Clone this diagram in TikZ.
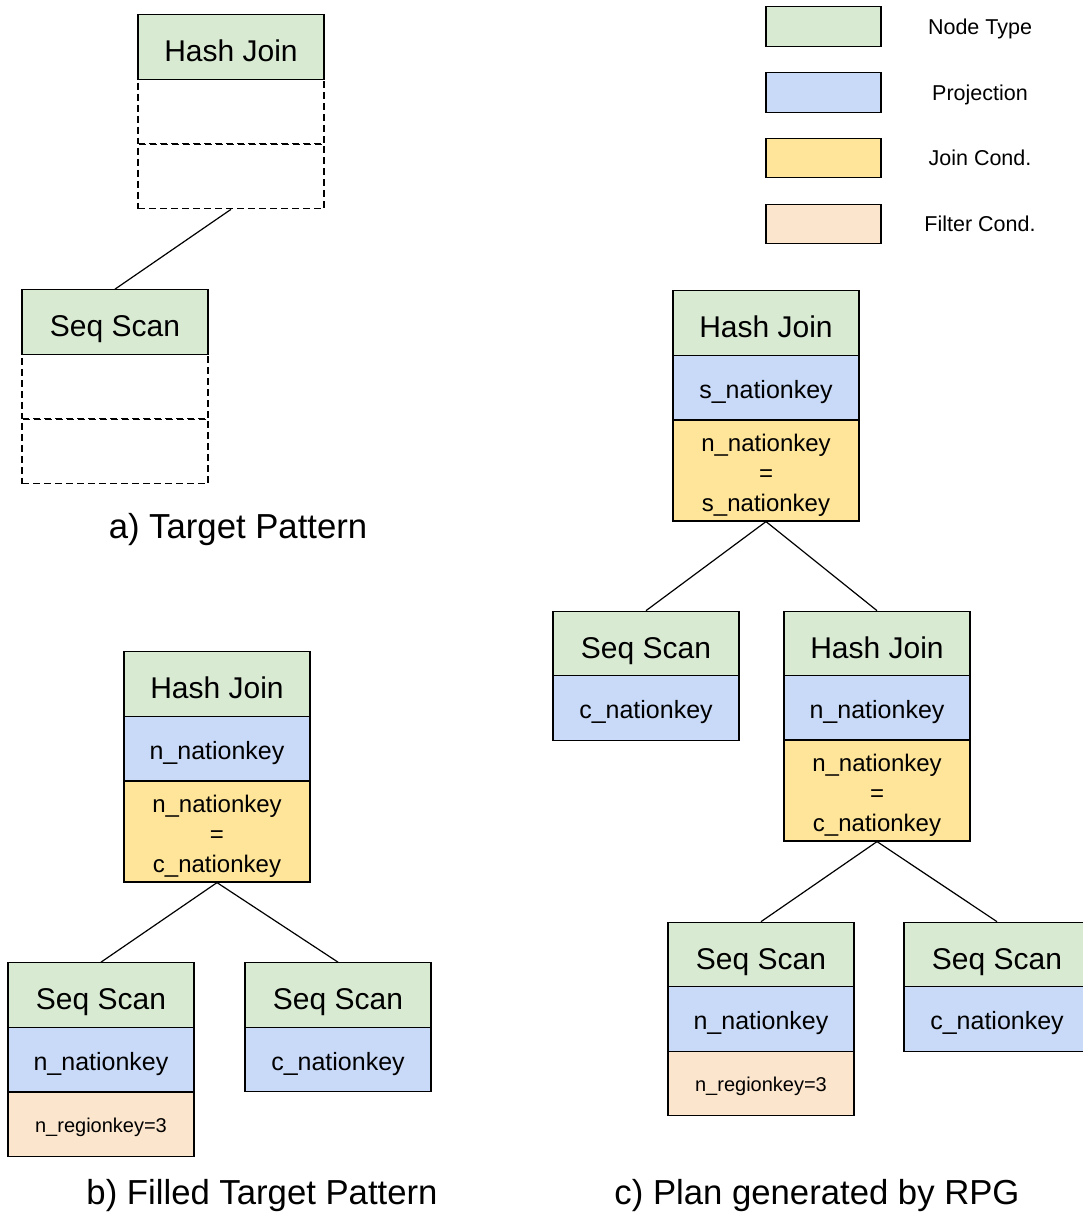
\documentclass[tikz,border=0pt]{standalone}
\usepackage{fontspec}
\setmainfont{Liberation Sans}
\definecolor{cgreen}{HTML}{D9EAD3}
\definecolor{cblue}{HTML}{C9DAF8}
\definecolor{cyellow}{HTML}{FFE599}
\definecolor{cpeach}{HTML}{FCE5CD}
\begin{document}
\begin{tikzpicture}[x=1pt,y=-1pt,
  cell/.style={draw=black, line width=1.2pt, minimum width=186pt, minimum height=64.5pt, inner sep=0pt, text=black},
  title/.style={cell, fill=cgreen, font=\fontsize{30}{36}\selectfont, text height=29pt, text depth=0pt},
  proj/.style={cell, fill=cblue, font=\fontsize{25}{30}\selectfont, text height=21pt, text depth=0pt},
  jcond/.style={cell, fill=cyellow, minimum height=101pt, label={[align=center, inner sep=0pt, yshift=-5pt, font=\fontsize{24}{30}\selectfont]center:#1}},
  fcond/.style={cell, fill=cpeach, font=\fontsize{20}{24}\selectfont, text height=16pt, text depth=0pt},
  emptycell/.style={cell, dash pattern=on 7pt off 4pt},
  legbox/.style={draw=black, line width=1.2pt, minimum width=115pt, minimum height=39.5pt, inner sep=0pt},
  legtext/.style={font=\fontsize{21.5}{26}\selectfont, inner sep=0pt, text height=15.5pt, text depth=0pt},
  caption/.style={font=\fontsize{34.7}{40}\selectfont, inner sep=0pt, text height=24pt, text depth=0pt},
  edge/.style={draw=black, line width=1.2pt}
]
\useasboundingbox (0,0) rectangle (1082,1214);

% Legend
\node[legbox, fill=cgreen] (l1) at (823.5,26.5) {};
\node[legbox, fill=cblue] (l2) at (823.5,92.5) {};
\node[legbox, fill=cyellow] (l3) at (823.5,158) {};
\node[legbox, fill=cpeach] (l4) at (823.5,224) {};
\node[legtext] (lt1) at (980,27) {Node Type};
\node[legtext] (lt2) at (980,92.5) {Projection};
\node[legtext] (lt3) at (980,158) {Join Cond.};
\node[legtext] (lt4) at (980,224) {Filter Cond.};

% Panel a
\node[emptycell] (a2) at (231,111.5) {};
\node[emptycell] (a3) at (231,176.5) {};
\node[title] (a1) at (231,47) {Hash Join};
\node[emptycell] (a5) at (115,386.5) {};
\node[emptycell] (a6) at (115,451.5) {};
\node[title] (a4) at (115,322) {Seq Scan};
\draw[edge] (a3.south) -- (a4.north);
\node[caption] (capa) at (238,526) {a) Target Pattern};

% Panel b
\node[title] (b1) at (217,684) {Hash Join};
\node[proj] (b2) at (217,748.5) {n\_nationkey};
\node[jcond={n\_nationkey\\=\\c\_nationkey}] (b3) at (217,831.5) {};
\node[title] (b4) at (101,995) {Seq Scan};
\node[proj] (b5) at (101,1059.5) {n\_nationkey};
\node[fcond] (b6) at (101,1124.5) {n\_regionkey=3};
\node[title] (b7) at (338,995) {Seq Scan};
\node[proj] (b8) at (338,1059.5) {c\_nationkey};
\draw[edge] (b3.south) -- (b4.north);
\draw[edge] (b3.south) -- (b7.north);
\node[caption] (capb) at (262,1192) {b) Filled Target Pattern};

% Panel c
\node[title] (c1) at (766,323) {Hash Join};
\node[proj] (c2) at (766,387.5) {s\_nationkey};
\node[jcond={n\_nationkey\\=\\s\_nationkey}] (c3) at (766,470.5) {};
\node[title] (c4) at (646,643.5) {Seq Scan};
\node[proj] (c5) at (646,708) {c\_nationkey};
\node[title] (c6) at (877,643.5) {Hash Join};
\node[proj] (c7) at (877,708) {n\_nationkey};
\node[jcond={n\_nationkey\\=\\c\_nationkey}] (c8) at (877,790.5) {};
\node[title] (c9) at (761,954.5) {Seq Scan};
\node[proj] (c10) at (761,1019) {n\_nationkey};
\node[fcond] (c11) at (761,1083.5) {n\_regionkey=3};
\node[title] (c12) at (997,954.5) {Seq Scan};
\node[proj] (c13) at (997,1019) {c\_nationkey};
\draw[edge] (c3.south) -- (c4.north);
\draw[edge] (c3.south) -- (c6.north);
\draw[edge] (c8.south) -- (c9.north);
\draw[edge] (c8.south) -- (c12.north);
\node[caption] (capc) at (817,1192) {c) Plan generated by RPG};
\end{tikzpicture}
\end{document}
